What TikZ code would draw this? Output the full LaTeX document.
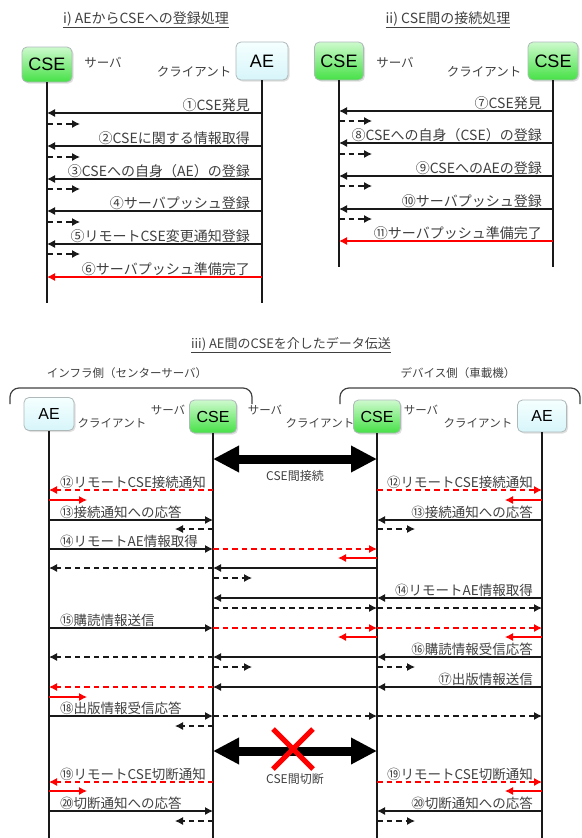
\documentclass[tikz,border=0pt]{standalone}
\usepackage{fontspec}
\setmainfont{Liberation Sans}
\newfontfamily\jp{Noto Sans CJK JP}
\usetikzlibrary{arrows.meta,shadows,calc}
\definecolor{txtgray}{RGB}{64,64,64}
\definecolor{boxgray}{RGB}{175,185,185}
\definecolor{cseTop}{RGB}{205,250,205}
\definecolor{cseBot}{RGB}{70,225,70}
\definecolor{aeTop}{RGB}{245,255,255}
\definecolor{aeBot}{RGB}{215,245,250}
\newcommand\mymsg[4][]{\draw[msg,#1] (#2 |- 0,#4) -- (#3 |- 0,#4);}
\newcommand\myret[4][]{\draw[ret,#1] (#2 |- 0,#4) -- ++(#3,0);}
\newcommand\myshort[3]{\draw[redmsg] (#1 |- 0,#3) -- ++(#2,0);}
\newcommand\rlab[4][lbl]{\node[#1, anchor=base east] (#2) at (#3) {#4};}
\newcommand\llab[4][lblc]{\node[#1, anchor=base west] (#2) at (#3) {#4};}
\begin{document}
\begin{tikzpicture}[x=1pt,y=-1pt,
  lbl/.style={font=\jp\fontsize{14}{16}\selectfont, text=txtgray, inner sep=0pt},
  lblc/.style={font=\jp\fontsize{13.5}{16}\selectfont, text=txtgray, inner sep=0pt},
  ttl/.style={font=\jp\fontsize{14}{16}\selectfont, text=txtgray, inner sep=0pt},
  role/.style={font=\jp\fontsize{12.5}{14}\selectfont, text=txtgray, inner sep=0pt},
  rolec/.style={font=\jp\fontsize{11.5}{13}\selectfont, text=txtgray, inner sep=0pt},
  grp/.style={font=\jp\fontsize{11.5}{13}\selectfont, text=txtgray, inner sep=0pt},
  basebox/.style={draw=boxgray, line width=0.8pt, rounded corners=5pt, inner sep=0pt,
     drop shadow={opacity=0.25, shadow xshift=1.5pt, shadow yshift=-1.5pt}},
  csebox/.style={basebox, top color=cseTop, bottom color=cseBot},
  aebox/.style={basebox, top color=aeTop, bottom color=aeBot},
  big/.style={font=\fontsize{18}{20}\selectfont},
  small/.style={font=\fontsize{16}{18}\selectfont},
  life/.style={line width=1.3pt, black!90},
  msg/.style={-{Latex[length=8pt,width=8pt]}, line width=1.1pt, black!90},
  ret/.style={msg, dash pattern=on 5.5pt off 4pt},
  redmsg/.style={msg, red},
  redret/.style={ret, red},
  bigarrow/.style={{Triangle[length=26pt,width=25pt]}-{Triangle[length=26pt,width=25pt]}, line width=9pt},
  brk/.style={line width=1.2pt, txtgray, rounded corners=9pt}
]
\useasboundingbox (0,0) rectangle (581,838);

% ---------------- section i ----------------
\node[ttl] (t1) at (146,20) {\underline{i) AEからCSEへの登録処理}};
\node[csebox, big, minimum width=50pt, minimum height=35pt] (CSEa) at (47,64.5) {CSE};
\node[aebox, big, minimum width=52pt, minimum height=38pt] (AEa) at (262,61) {AE};
\node[role] (sa) at (103,63) {サーバ};
\node[role] (ca) at (194,72) {クライアント};
\draw[life] (CSEa.south) -- (CSEa.south |- 0,303);
\draw[life] (AEa.south) -- (AEa.south |- 0,303);

\rlab{m1}{250,110}{①CSE発見}
\mymsg{AEa}{CSEa}{113}
\myret{CSEa}{33}{124}
\rlab{m2}{250,143}{②CSEに関する情報取得}
\mymsg{AEa}{CSEa}{146}
\myret{CSEa}{33}{157}
\rlab{m3}{250,176}{③CSEへの自身（AE）の登録}
\mymsg{AEa}{CSEa}{179}
\myret{CSEa}{33}{189}
\rlab{m4}{250,208}{④サーバプッシュ登録}
\mymsg{AEa}{CSEa}{211}
\myret{CSEa}{33}{222}
\rlab{m5}{250,241}{⑤リモートCSE変更通知登録}
\mymsg{AEa}{CSEa}{244}
\myret{CSEa}{33}{254}
\rlab{m6}{250,274}{⑥サーバプッシュ準備完了}
\mymsg[red]{AEa}{CSEa}{277}

% ---------------- section ii ----------------
\node[ttl] (t2) at (448,20) {\underline{ii) CSE間の接続処理}};
\node[csebox, big, minimum width=49pt, minimum height=38pt] (CSEb) at (339,61) {CSE};
\node[csebox, big, minimum width=50pt, minimum height=38pt] (CSEc) at (553,61) {CSE};
\node[role] (sb) at (395,63) {サーバ};
\node[role] (cb) at (484,72) {クライアント};
\draw[life] (CSEb.south) -- (CSEb.south |- 0,267);
\draw[life] (CSEc.south) -- (CSEc.south |- 0,267);

\rlab{m7}{542,108}{⑦CSE発見}
\mymsg{CSEc}{CSEb}{111}
\myret{CSEb}{33}{121}
\rlab{m8}{542,140}{⑧CSEへの自身（CSE）の登録}
\mymsg{CSEc}{CSEb}{143}
\myret{CSEb}{33}{154}
\rlab{m9}{542,173}{⑨CSEへのAEの登録}
\mymsg{CSEc}{CSEb}{176}
\myret{CSEb}{33}{186}
\rlab{m10}{542,206}{⑩サーバプッシュ登録}
\mymsg{CSEc}{CSEb}{209}
\myret{CSEb}{33}{219}
\rlab{m11}{542,238}{⑪サーバプッシュ準備完了}
\mymsg[red]{CSEc}{CSEb}{241}

% ---------------- section iii ----------------
\node[ttl, font=\jp\fontsize{13}{15}\selectfont] (t3) at (291,345) {\underline{iii) AE間のCSEを介したデータ伝送}};
\node[grp] (g1) at (127,373) {インフラ側（センターサーバ）};
\node[grp] (g2) at (458,373) {デバイス側（車載機）};
\draw[brk] (10,404) -- (10,388) -- (252,388) -- (252,404);
\draw[brk] (340,404) -- (340,388) -- (580,388) -- (580,404);

\node[aebox, small, minimum width=50pt, minimum height=33pt] (AEl) at (49,414) {AE};
\node[csebox, small, minimum width=47pt, minimum height=33pt] (CSEl) at (213,416.5) {CSE};
\node[csebox, small, minimum width=47pt, minimum height=33pt] (CSEr) at (377,416.5) {CSE};
\node[aebox, small, minimum width=49pt, minimum height=32pt] (AEr) at (542,416) {AE};
\node[rolec] (r1) at (112,423) {クライアント};
\node[rolec] (r2) at (168,410) {サーバ};
\node[rolec] (r3) at (265,410) {サーバ};
\node[rolec] (r4) at (320,423) {クライアント};
\node[rolec] (r5) at (421,410) {サーバ};
\node[rolec] (r6) at (478,423) {クライアント};
\draw[life] (AEl.south) -- (AEl.south |- 0,838);
\draw[life] (CSEl.south) -- (CSEl.south |- 0,838);
\draw[life] (CSEr.south) -- (CSEr.south |- 0,838);
\draw[life] (AEr.south) -- (AEr.south |- 0,838);

% connection
\draw[bigarrow] (CSEl |- 0,459) -- (CSEr |- 0,459);
\node[grp, font=\jp\fontsize{12}{14}\selectfont] (conn) at (295,476) {CSE間接続};

% 12
\llab{n12l}{60,487}{⑫リモートCSE接続通知}
\rlab[lblc]{n12r}{533,487}{⑫リモートCSE接続通知}
\mymsg[redret]{CSEl}{AEl}{490}
\mymsg[redret]{CSEr}{AEr}{490}
\myshort{AEl}{38}{500}
\myshort{AEr}{-37}{500}
% 13
\llab{n13l}{60,517}{⑬接続通知への応答}
\rlab[lblc]{n13r}{533,517}{⑬接続通知への応答}
\mymsg{AEl}{CSEl}{520}
\mymsg{AEr}{CSEr}{520}
\myret{CSEl}{-38}{529}
\myret{CSEr}{38}{529}
% 14 left
\llab{n14l}{60,546}{⑭リモートAE情報取得}
\mymsg{AEl}{CSEl}{549}
\mymsg[redret]{CSEl}{CSEr}{549}
\myshort{CSEr}{-39}{558}
\mymsg{CSEr}{CSEl}{568}
\mymsg[ret]{CSEl}{AEl}{568}
\myret{CSEl}{39}{578}
% 14 right
\rlab[lblc]{n14r}{533,595}{⑭リモートAE情報取得}
\mymsg{AEr}{CSEr}{598}
\mymsg{CSEr}{CSEl}{598}
\mymsg[ret]{CSEl}{CSEr}{608}
\mymsg[ret]{CSEr}{AEr}{608}
% 15
\llab{n15l}{60,625}{⑮購読情報送信}
\mymsg{AEl}{CSEl}{628}
\mymsg[redret]{CSEl}{CSEr}{628}
\mymsg[redret]{CSEr}{AEr}{628}
\myshort{CSEr}{-39}{637}
\myshort{AEr}{-37}{637}
% 16
\rlab[lblc]{n16r}{533,654}{⑯購読情報受信応答}
\mymsg{AEr}{CSEr}{657}
\mymsg{CSEr}{CSEl}{657}
\mymsg[ret]{CSEl}{AEl}{657}
\myret{CSEr}{38}{667}
\myret{CSEl}{39}{667}
% 17
\rlab[lblc]{n17r}{533,684}{⑰出版情報送信}
\mymsg{AEr}{CSEr}{687}
\mymsg{CSEr}{CSEl}{687}
\mymsg[redret]{CSEl}{AEl}{687}
\myshort{AEl}{38}{697}
% 18
\llab{n18l}{60,713}{⑱出版情報受信応答}
\mymsg{AEl}{CSEl}{716}
\mymsg[ret]{CSEl}{CSEr}{716}
\mymsg[ret]{CSEr}{AEr}{716}
\myret{CSEl}{-38}{726}

% disconnection
\draw[bigarrow] (CSEl |- 0,751) -- (CSEr |- 0,751);
\coordinate (xc) at (293,749);
\draw[red, line width=5pt] ($(xc)+(-20,-20)$) -- ($(xc)+(20,20)$)
                          ($(xc)+(20,-20)$) -- ($(xc)+(-20,20)$);
\node[grp, font=\jp\fontsize{12}{14}\selectfont] (disc) at (295,779) {CSE間切断};

% 19
\llab{n19l}{60,779}{⑲リモートCSE切断通知}
\rlab[lblc]{n19r}{533,779}{⑲リモートCSE切断通知}
\mymsg[redret]{CSEl}{AEl}{782}
\mymsg[redret]{CSEr}{AEr}{782}
\myshort{AEl}{38}{791}
\myshort{AEr}{-37}{791}
% 20
\llab{n20l}{60,808}{⑳切断通知への応答}
\rlab[lblc]{n20r}{533,808}{⑳切断通知への応答}
\mymsg{AEl}{CSEl}{811}
\mymsg{AEr}{CSEr}{811}
\myret{CSEl}{-38}{821}
\myret{CSEr}{38}{821}
\end{tikzpicture}
\end{document}
